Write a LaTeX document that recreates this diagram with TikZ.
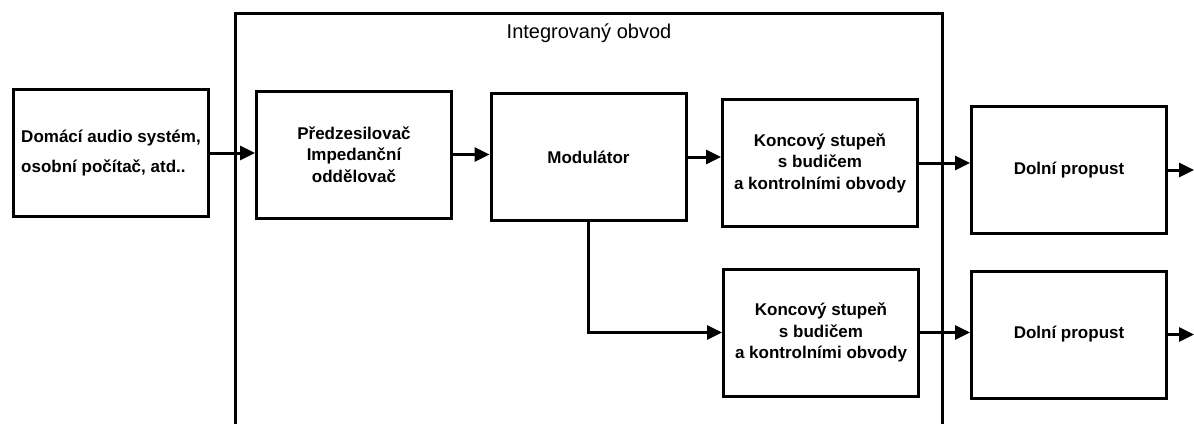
\documentclass[tikz,border=0pt]{standalone}
\usepackage{fontspec}
\setmainfont{Liberation Sans}
\usetikzlibrary{positioning, arrows.meta}

\begin{document}
\begin{tikzpicture}[x=1pt, y=-1pt,
	block/.style={draw, line width=3pt, minimum width=195pt, minimum height=127pt, align=center, font=\bfseries\fontsize{17}{21.5}\selectfont},
	sig/.style={-{Triangle[length=15pt,width=14pt]}, line width=3pt}]
	\useasboundingbox (0,0) rectangle (1194,423);

	% integrovany obvod
	\coordinate (icA) at (235,430);
	\coordinate (icB) at (942,430);
	\draw[line width=3pt] (icA) -- (235,13) -- (942,13) -- (icB);
	\node[font=\fontsize{20}{22}\selectfont] (title) at (589,33) {Integrovaný obvod};

	\node[block, align=left, font=\bfseries\fontsize{17}{30}\selectfont] (src) at (111,153) {Domácí audio systém,\\osobní počítač, atd..};
	\node[block] (pre) at (354,154.5) {Předzesilovač\\Impedanční\\oddělovač};
	\node[block] (mod) at (588.5,157) {Modulátor};
	\node[block] (kt) at (820,163) {Koncový stupeň\\s budičem\\a kontrolními obvody};
	\node[block] (dt) at (1069,170) {Dolní propust};
	\node[block] (kb) at (821,332.5) {Koncový stupeň\\s budičem\\a kontrolními obvody};
	\node[block] (db) at (1069,334.5) {Dolní propust};
	\coordinate (outA) at (1194,170);
	\coordinate (outB) at (1194,334.5);

	\draw[sig] (src.east) -- (src.east -| pre.west);
	\draw[sig] (pre.east) -- (pre.east -| mod.west);
	\draw[sig] (mod.east) -- (mod.east -| kt.west);
	\draw[sig] (mod.south) |- (kb.west);
	\draw[sig] (kt.east) -- (kt.east -| dt.west);
	\draw[sig] (kb.east) -- (kb.east -| db.west);
	\draw[sig] (dt.east) -- (outA);
	\draw[sig] (db.east) -- (outB);
\end{tikzpicture}
\end{document}
